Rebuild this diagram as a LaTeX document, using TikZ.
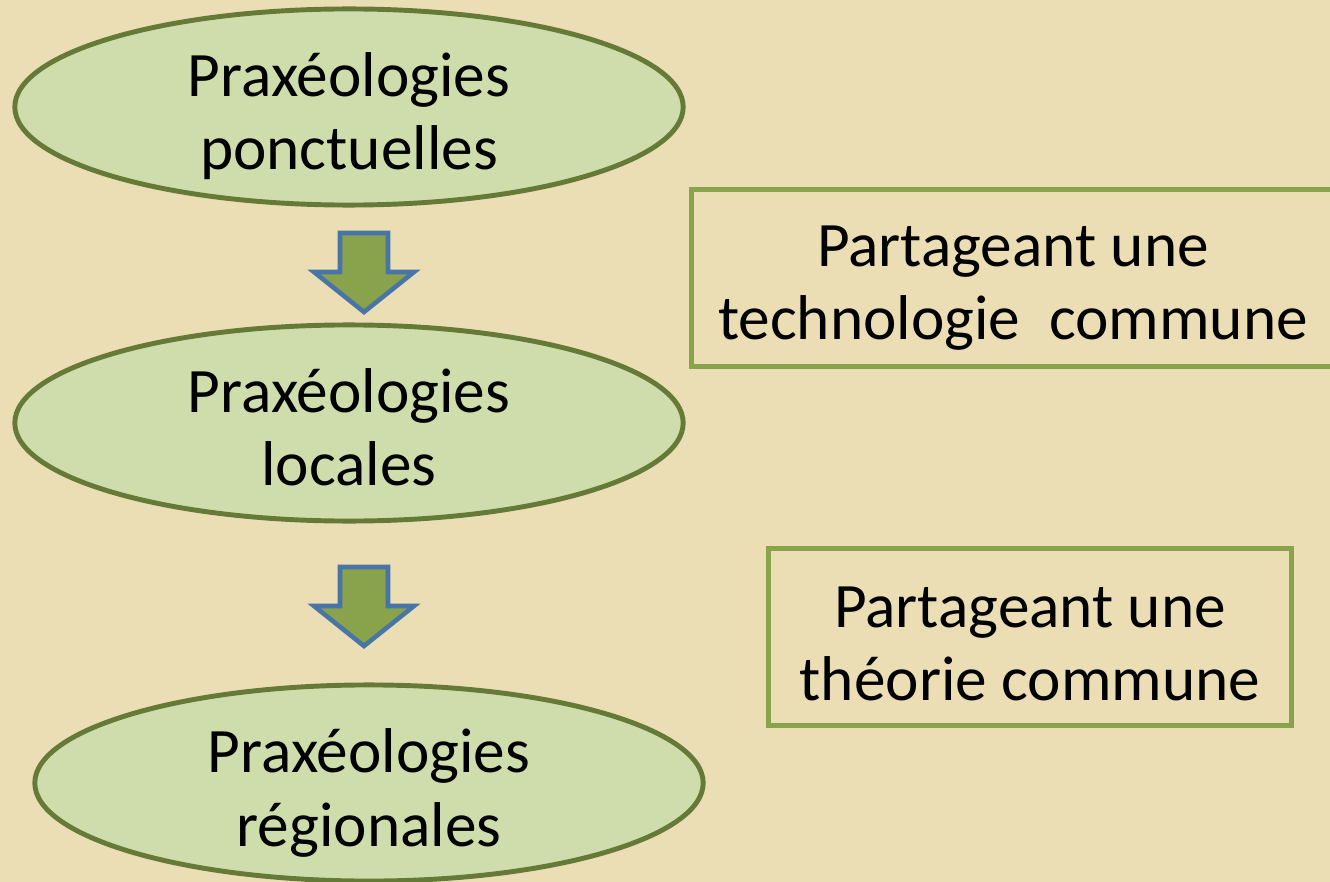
\documentclass[tikz,border=0pt]{standalone}
\usepackage{fontspec}
\setmainfont{Carlito}
\usetikzlibrary{calc,shapes.geometric}

\definecolor{parchment}{RGB}{236,222,180}
\definecolor{ellfill}{RGB}{207,221,172}
\definecolor{ellline}{RGB}{102,122,56}
\definecolor{olive}{RGB}{137,162,76}
\definecolor{arrowblue}{RGB}{72,116,166}

% block arrow pointing down, #1 = middle of its top edge
\newcommand{\blockarrow}[1]{%
  \draw[arrowshape] ($(#1)+(-24,0)$) -- ++(48,0) -- ++(0,39) -- ++(26,0)
    -- ($(#1)+(0,79)$) -- ($(#1)+(-50,39)$) -- ++(26,0) -- cycle;}

\begin{document}
\begin{tikzpicture}[x=0.01cm,y=-0.01cm,
  praxis/.style={ellipse,draw=ellline,fill=ellfill,line width=1.4pt,
    minimum width=6.68cm,minimum height=1.96cm,inner sep=0pt},
  sharebox/.style={rectangle,draw=olive,line width=1.4pt,inner sep=0pt},
  label text/.style={inner sep=0pt,align=center,
    font=\fontsize{18}{20.8}\selectfont},
  arrowshape/.style={fill=olive,draw=arrowblue,line width=1.3pt,line join=miter}]

  % background
  \fill[parchment] (0,0) rectangle (1330,882);
  \useasboundingbox (0,0) rectangle (1330,882);

  % the three levels
  \node[praxis] (ponct) at (349,107) {};
  \node[praxis] (local) at (349,423) {};
  \node[praxis] (region) at (369,783) {};
  \node[label text] (ponctTxt) at ($(ponct)+(0,9)$) {Praxéologies\\ponctuelles};
  \node[label text] (localTxt) at ($(local)+(0,4)$) {Praxéologies\\locales};
  \node[label text] (regionTxt) at ($(region)+(0,10)$) {Praxéologies\\régionales};

  % down arrows between the levels
  \coordinate (arrA) at (364,233);
  \coordinate (arrB) at (364,567);
  \blockarrow{arrA}
  \blockarrow{arrB}

  % what they share
  \begin{scope}
    \clip (0,0) rectangle (1330,882);
    \node[sharebox,minimum width=6.48cm,minimum height=1.76cm] (techno) at (1016,278) {};
  \end{scope}
  \node[sharebox,minimum width=5.23cm,minimum height=1.77cm] (theorie) at (1030,637) {};
  \node[label text] (technoTxt) at ($(techno)+(-3,10)$) {Partageant une\\technologie\ \ commune};
  \node[label text] (theorieTxt) at ($(theorie)+(0,7)$) {Partageant une\\théorie commune};

\end{tikzpicture}
\end{document}
